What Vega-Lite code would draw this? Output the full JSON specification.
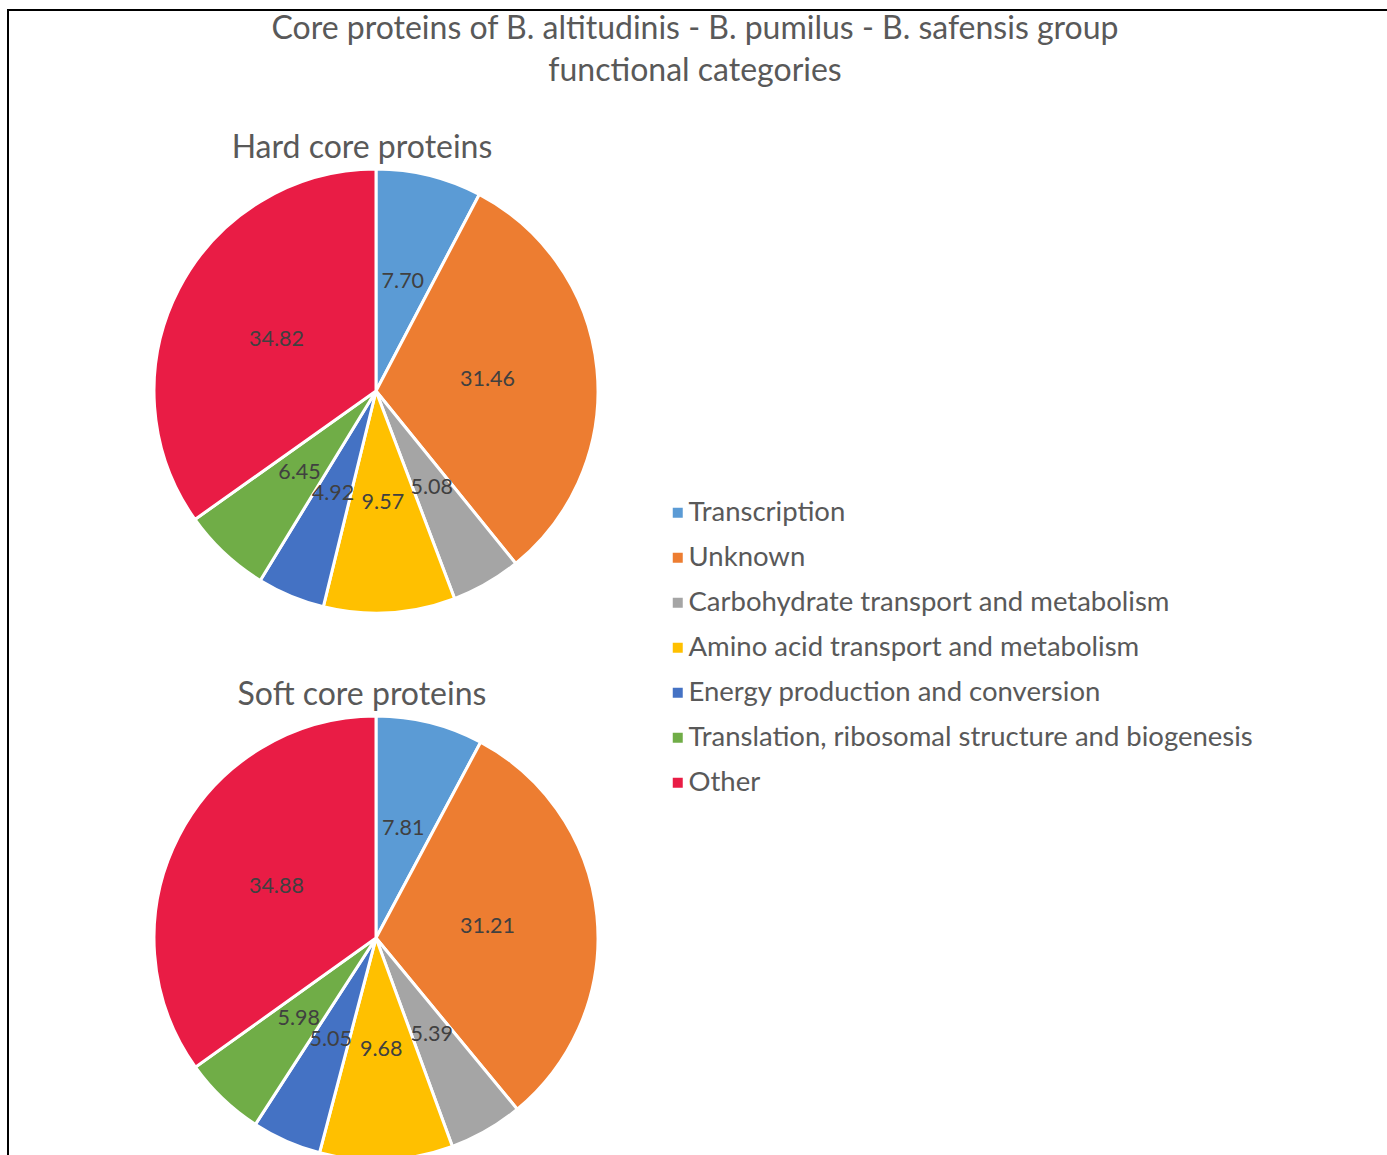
{
  "$schema": "https://vega.github.io/schema/vega-lite/v6.json",
  "background": "white",
  "padding": {"left": 7, "top": 9, "right": 0, "bottom": 0},
  "title": {
    "text": ["Core proteins of B. altitudinis - B. pumilus - B. safensis group", "functional categories"],
    "anchor": "start",
    "frame": "group",
    "align": "center",
    "dx": 541,
    "fontSize": 32,
    "font": "Lato",
    "fontWeight": "normal",
    "color": "#595959",
    "lineHeight": 42,
    "offset": -79
  },
  "datasets": {
    "hard": [
      {"category": "Transcription", "idx": 1, "value": 7.70},
      {"category": "Unknown", "idx": 2, "value": 31.46},
      {"category": "Carbohydrate transport and metabolism", "idx": 3, "value": 5.08},
      {"category": "Amino acid transport and metabolism", "idx": 4, "value": 9.57},
      {"category": "Energy production and conversion", "idx": 5, "value": 4.92},
      {"category": "Translation, ribosomal structure and biogenesis", "idx": 6, "value": 6.45},
      {"category": "Other", "idx": 7, "value": 34.82}
    ],
    "soft": [
      {"category": "Transcription", "idx": 1, "value": 7.81},
      {"category": "Unknown", "idx": 2, "value": 31.21},
      {"category": "Carbohydrate transport and metabolism", "idx": 3, "value": 5.39},
      {"category": "Amino acid transport and metabolism", "idx": 4, "value": 9.68},
      {"category": "Energy production and conversion", "idx": 5, "value": 5.05},
      {"category": "Translation, ribosomal structure and biogenesis", "idx": 6, "value": 5.98},
      {"category": "Other", "idx": 7, "value": 34.88}
    ]
  },
  "spacing": 60,
  "vconcat": [
    {
      "data": {"name": "hard"},
      "width": 444,
      "height": 444,
      "title": {"text": "Hard core proteins"},
      "encoding": {
        "theta": {"field": "value", "type": "quantitative", "stack": true},
        "order": {"field": "idx", "type": "quantitative"},
        "color": {
          "field": "category",
          "type": "nominal",
          "sort": null,
          "scale": {
            "domain": ["Transcription", "Unknown", "Carbohydrate transport and metabolism", "Amino acid transport and metabolism", "Energy production and conversion", "Translation, ribosomal structure and biogenesis", "Other"],
            "range": ["#5B9BD5", "#ED7D31", "#A5A5A5", "#FFC000", "#4472C4", "#70AD47", "#E91C45"]
          },
          "legend": {"orient": "none", "legendX": -146, "legendY": -159}
        }
      },
      "layer": [
        {"mark": {"type": "arc", "outerRadius": 222, "stroke": "white", "strokeWidth": 3}},
        {"mark": {"type": "text", "radius": 112, "fontSize": 21.5, "font": "Lato", "color": "#404040"},
         "encoding": {"text": {"field": "value", "type": "quantitative", "format": ".2f"}, "color": {"value": "#404040"}}}
      ]
    },
    {
      "data": {"name": "soft"},
      "width": 444,
      "height": 444,
      "title": {"text": "Soft core proteins"},
      "encoding": {
        "theta": {"field": "value", "type": "quantitative", "stack": true},
        "order": {"field": "idx", "type": "quantitative"},
        "color": {
          "field": "category",
          "type": "nominal",
          "sort": null,
          "scale": {
            "domain": ["Transcription", "Unknown", "Carbohydrate transport and metabolism", "Amino acid transport and metabolism", "Energy production and conversion", "Translation, ribosomal structure and biogenesis", "Other"],
            "range": ["#5B9BD5", "#ED7D31", "#A5A5A5", "#FFC000", "#4472C4", "#70AD47", "#E91C45"]
          },
          "legend": {"orient": "none", "legendX": -146, "legendY": -159}
        }
      },
      "layer": [
        {"mark": {"type": "arc", "outerRadius": 222, "stroke": "white", "strokeWidth": 3}},
        {"mark": {"type": "text", "radius": 112, "fontSize": 21.5, "font": "Lato", "color": "#404040"},
         "encoding": {"text": {"field": "value", "type": "quantitative", "format": ".2f"}, "color": {"value": "#404040"}}}
      ]
    }
  ],
  "resolve": {"scale": {"color": "shared"}, "legend": {"color": "shared"}},
  "config": {
    "view": {"stroke": null},
    "title": {"fontSize": 32, "font": "Lato", "fontWeight": "normal", "color": "#595959", "offset": -2, "dx": -14},
    "legend": {
      "title": null,
      "padding": 489,
      "strokeColor": "black",
      "strokeWidth": 2,
      "symbolType": "square",
      "symbolSize": 100,
      "symbolStrokeWidth": 0,
      "symbolOffset": 167,
      "labelFontSize": 27.5,
      "labelFont": "Lato",
      "labelColor": "#595959",
      "labelOffset": -3,
      "rowPadding": 16,
      "labelLimit": 800
    }
  }
}
